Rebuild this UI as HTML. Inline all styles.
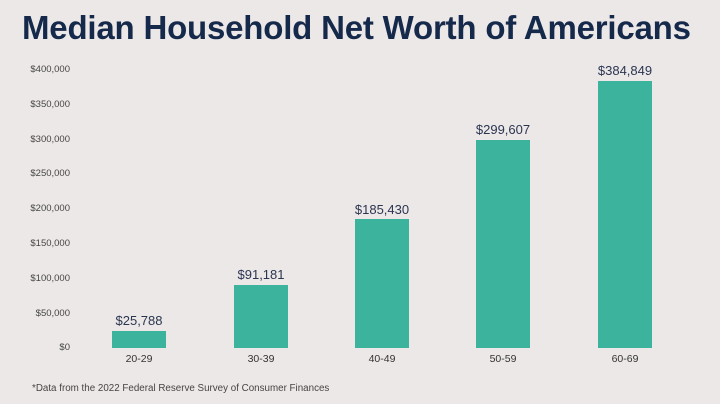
<!DOCTYPE html>
<html><head><style>
body{margin:0;width:720px;height:404px;background:#ede8e8;font-family:"Liberation Sans",sans-serif;position:relative;overflow:hidden}
.t{position:absolute;left:22px;top:9px;font-size:33px;font-weight:bold;color:#15294b;letter-spacing:-0.2px;white-space:nowrap}
.y{position:absolute;right:650px;font-size:9.5px;color:#444;text-align:right;white-space:nowrap}
.b{position:absolute;background:#3bb39d;width:54px}
.v{position:absolute;width:100px;text-align:center;font-size:13px;color:#2a3550}
.x{position:absolute;top:353px;width:100px;text-align:center;font-size:10.5px;color:#333}
.n{position:absolute;left:32px;top:383px;font-size:9.8px;color:#444;white-space:nowrap}
</style></head><body>
<div class="t">Median Household Net Worth of Americans</div>
<div class="y" style="top:64px">$400,000</div>
<div class="y" style="top:99px">$350,000</div>
<div class="y" style="top:134px">$300,000</div>
<div class="y" style="top:168px">$250,000</div>
<div class="y" style="top:203px">$200,000</div>
<div class="y" style="top:238px">$150,000</div>
<div class="y" style="top:273px">$100,000</div>
<div class="y" style="top:308px">$50,000</div>
<div class="y" style="top:342px">$0</div>
<div class="b" style="left:112px;top:331px;height:17px"></div>
<div class="b" style="left:234px;top:285px;height:63px"></div>
<div class="b" style="left:355px;top:219px;height:129px"></div>
<div class="b" style="left:476px;top:140px;height:208px"></div>
<div class="b" style="left:598px;top:81px;height:267px"></div>
<div class="v" style="left:89px;top:313px">$25,788</div>
<div class="v" style="left:211px;top:267px">$91,181</div>
<div class="v" style="left:332px;top:202px">$185,430</div>
<div class="v" style="left:453px;top:122px">$299,607</div>
<div class="v" style="left:575px;top:63px">$384,849</div>
<div class="x" style="left:89px">20-29</div>
<div class="x" style="left:211px">30-39</div>
<div class="x" style="left:332px">40-49</div>
<div class="x" style="left:453px">50-59</div>
<div class="x" style="left:575px">60-69</div>
<div class="n">*Data from the 2022 Federal Reserve Survey of Consumer Finances</div>
</body></html>
